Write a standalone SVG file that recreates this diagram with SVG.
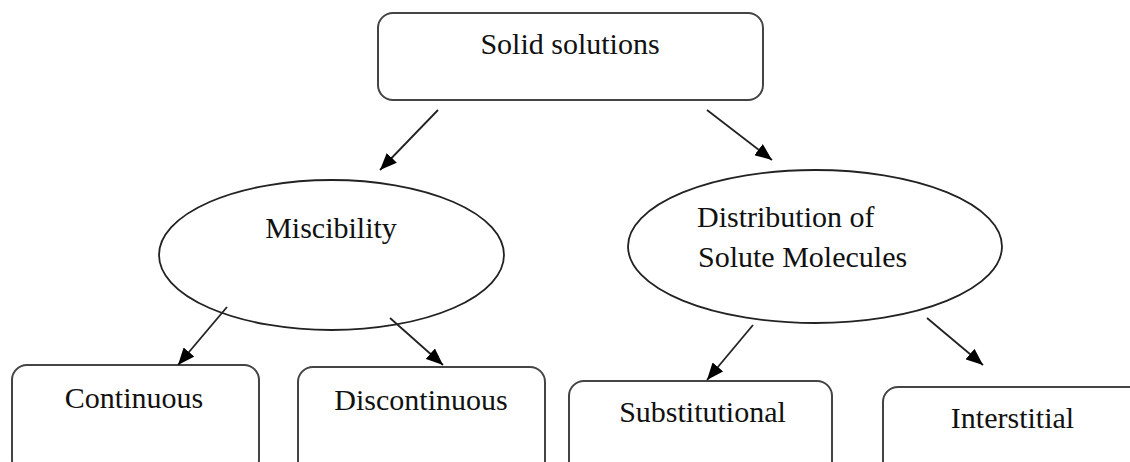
<svg xmlns="http://www.w3.org/2000/svg" width="1130" height="462" viewBox="0 0 1130 462">
<defs>
<marker id="ah" markerUnits="userSpaceOnUse" markerWidth="18" markerHeight="14" refX="17" refY="7" orient="auto">
<path d="M0,0 L17,7 L0,14 z" fill="#000"/>
</marker>
<style>
.box{fill:#fff;stroke:#444;stroke-width:2}
.ell{fill:#fff;stroke:#222;stroke-width:1.8}
.t{font-family:"Liberation Serif","Times New Roman",serif;font-size:30px;fill:#111}
.c{stroke:#222;stroke-width:1.8;fill:none;marker-end:url(#ah)}
</style>
</defs>
<rect width="1130" height="462" fill="#fff"/>
<g id="solid-solutions">
<rect class="box" x="378" y="13" width="385" height="87" rx="15"/>
<text class="t" x="570" y="54" text-anchor="middle">Solid solutions</text>
</g>
<g id="miscibility">
<ellipse class="ell" cx="331.5" cy="255" rx="172.5" ry="75"/>
<text class="t" x="331" y="238" text-anchor="middle">Miscibility</text>
</g>
<g id="distribution">
<ellipse class="ell" cx="815" cy="246.5" rx="187" ry="76.5"/>
<text class="t" x="697" y="227">Distribution of</text>
<text class="t" x="698" y="267">Solute Molecules</text>
</g>
<g id="continuous">
<rect class="box" x="12" y="365" width="247" height="110" rx="15"/>
<text class="t" x="134" y="408" text-anchor="middle">Continuous</text>
</g>
<g id="discontinuous">
<rect class="box" x="298" y="367" width="247" height="110" rx="15"/>
<text class="t" x="421" y="410" text-anchor="middle">Discontinuous</text>
</g>
<g id="substitutional">
<rect class="box" x="569" y="381" width="263" height="100" rx="15"/>
<text class="t" x="702.5" y="422" text-anchor="middle">Substitutional</text>
</g>
<g id="interstitial">
<rect class="box" x="883" y="387" width="270" height="100" rx="15"/>
<text class="t" x="1012.5" y="428" text-anchor="middle">Interstitial</text>
</g>
<g id="connectors">
<line class="c" x1="438" y1="110" x2="380" y2="170"/>
<line class="c" x1="707" y1="110" x2="772" y2="160"/>
<line class="c" x1="227" y1="307" x2="178" y2="365"/>
<line class="c" x1="390" y1="318" x2="443" y2="365"/>
<line class="c" x1="753" y1="325" x2="707" y2="380"/>
<line class="c" x1="927" y1="318" x2="983" y2="365"/>
</g>
</svg>
